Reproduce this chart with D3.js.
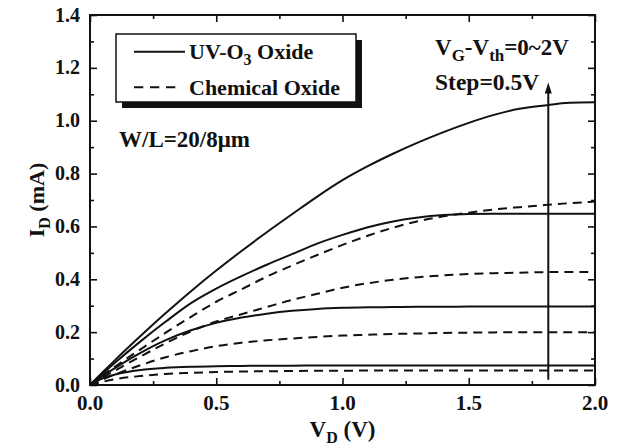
<!DOCTYPE html>
<html><head><meta charset="utf-8">
<script src="https://cdn.jsdelivr.net/npm/d3@7"></script>
</head>
<body style="margin:0;padding:0;background:#fff">
<svg id="chart" width="621" height="448"></svg>
<script>
// ---- data ----
const vd = [0,0.05,0.1,0.2,0.3,0.4,0.5,0.6,0.7,0.8,0.9,1.0,1.1,1.2,1.3,1.4,1.5,1.6,1.7,1.8,1.9,2.0];
// UV-O3 oxide, VG-Vth = 2.0, 1.5, 1.0, 0.5 V
const uv20 = [0,0.048,0.095,0.185,0.272,0.355,0.433,0.507,0.578,0.646,0.713,0.775,0.828,0.875,0.918,0.957,0.992,1.022,1.045,1.058,1.068,1.07];
const uv15 = [0,0.043,0.085,0.165,0.24,0.31,0.365,0.412,0.455,0.495,0.535,0.568,0.597,0.619,0.634,0.643,0.647,0.648,0.648,0.648,0.648,0.648];
const uv10 = [0,0.034,0.065,0.122,0.17,0.207,0.235,0.255,0.27,0.281,0.288,0.292,0.294,0.295,0.296,0.296,0.297,0.297,0.297,0.297,0.297,0.297];
const uv05 = [0,0.025,0.04,0.057,0.065,0.069,0.071,0.072,0.073,0.073,0.074,0.074,0.074,0.074,0.074,0.074,0.074,0.074,0.074,0.074,0.074,0.074];
// Chemical oxide
const ch20 = [0,0.036,0.07,0.135,0.198,0.258,0.315,0.362,0.41,0.452,0.492,0.53,0.565,0.595,0.62,0.638,0.652,0.664,0.673,0.681,0.688,0.694];
const ch15 = [0,0.028,0.055,0.108,0.158,0.203,0.24,0.268,0.295,0.322,0.345,0.368,0.385,0.398,0.408,0.415,0.42,0.423,0.425,0.427,0.428,0.428];
const ch10 = [0,0.021,0.04,0.075,0.105,0.128,0.147,0.16,0.169,0.176,0.182,0.187,0.19,0.193,0.195,0.197,0.198,0.199,0.2,0.2,0.2,0.2];
const ch05 = [0,0.012,0.022,0.034,0.042,0.046,0.049,0.051,0.052,0.053,0.054,0.054,0.055,0.055,0.055,0.055,0.055,0.055,0.055,0.055,0.055,0.055];
const xTicks = [0,0.5,1.0,1.5,2.0];
const yTicks = [0,0.2,0.4,0.6,0.8,1.0,1.2,1.4];
const xMinor = [0.25,0.75,1.25,1.75];
const yMinor = [0.1,0.3,0.5,0.7,0.9,1.1,1.3];
const arrowV = 1.815, arrowFrom = 0.02, arrowTo = 1.145;

// ---- layout ----
const L = 90, R = 595, T = 15, B = 385;
const x = d3.scaleLinear().domain([0,2]).range([L,R]);
const y = d3.scaleLinear().domain([0,1.4]).range([B,T]);
const svg = d3.select("#chart");

// helper: serif bold text
function txt(parent, size){
  return parent.append("text")
    .style("font-family", '"Liberation Serif"')
    .attr("font-weight","bold").attr("font-size",size).attr("fill","#111");
}

// curves
const line = d3.line().x((d,i)=>x(vd[i])).y(d=>y(d)).curve(d3.curveMonotoneX);
const series = [
  {v:uv20,dash:null},{v:uv15,dash:null},{v:uv10,dash:null},{v:uv05,dash:null},
  {v:ch20,dash:"9,6"},{v:ch15,dash:"9,6"},{v:ch10,dash:"9,6"},{v:ch05,dash:"9,6"}
];
svg.append("g").selectAll("path").data(series).join("path")
  .attr("d",d=>line(d.v)).attr("fill","none").attr("stroke","#111")
  .attr("stroke-width",2).attr("stroke-dasharray",d=>d.dash);

// axes (ticks only, labels drawn separately)
function styleAxis(g){
  g.select(".domain").remove();
  g.selectAll(".tick line").attr("stroke","#111").attr("stroke-width",1.6);
  g.selectAll(".tick text").remove();
}
svg.append("g").attr("transform",`translate(0,${B})`)
  .call(d3.axisBottom(x).tickValues(xTicks).tickSizeInner(-7).tickSizeOuter(0)).call(styleAxis);
svg.append("g").attr("transform",`translate(0,${B})`)
  .call(d3.axisBottom(x).tickValues(xMinor).tickSizeInner(-4).tickSizeOuter(0)).call(styleAxis);
svg.append("g").attr("transform",`translate(0,${T})`)
  .call(d3.axisTop(x).tickValues(xTicks).tickSizeInner(-7).tickSizeOuter(0)).call(styleAxis);
svg.append("g").attr("transform",`translate(0,${T})`)
  .call(d3.axisTop(x).tickValues(xMinor).tickSizeInner(-4).tickSizeOuter(0)).call(styleAxis);
svg.append("g").attr("transform",`translate(${L},0)`)
  .call(d3.axisLeft(y).tickValues(yTicks).tickSizeInner(-7).tickSizeOuter(0)).call(styleAxis);
svg.append("g").attr("transform",`translate(${L},0)`)
  .call(d3.axisLeft(y).tickValues(yMinor).tickSizeInner(-4).tickSizeOuter(0)).call(styleAxis);
svg.append("g").attr("transform",`translate(${R},0)`)
  .call(d3.axisRight(y).tickValues(yTicks).tickSizeInner(-7).tickSizeOuter(0)).call(styleAxis);
svg.append("g").attr("transform",`translate(${R},0)`)
  .call(d3.axisRight(y).tickValues(yMinor).tickSizeInner(-4).tickSizeOuter(0)).call(styleAxis);

// tick labels
const fmt = d3.format(".1f");
const xl = svg.append("g");
xTicks.forEach(v=>{ txt(xl,21).attr("x",x(v)).attr("y",B+25).attr("text-anchor","middle").text(fmt(v)); });
const yl = svg.append("g");
yTicks.forEach(v=>{ txt(yl,20).attr("x",L-10).attr("y",y(v)+6.5).attr("text-anchor","end").text(fmt(v)); });

// frame
svg.append("rect").attr("x",L).attr("y",T).attr("width",R-L).attr("height",B-T)
  .attr("fill","none").attr("stroke","#111").attr("stroke-width",2);

// arrow
svg.append("line").attr("x1",x(arrowV)).attr("x2",x(arrowV)).attr("y1",y(arrowFrom)).attr("y2",y(arrowTo)+8)
  .attr("stroke","#111").attr("stroke-width",2);
const ax = x(arrowV), ay = y(arrowTo);
svg.append("path").attr("d",`M${ax},${ay} L${ax-3.5},${ay+11} L${ax+3.5},${ay+11} Z`).attr("fill","#111");

// legend
const lg = svg.append("g");
lg.append("rect").attr("x",122).attr("y",40).attr("width",240).attr("height",68).attr("fill","#111");
lg.append("rect").attr("x",116).attr("y",34).attr("width",240).attr("height",68).attr("fill","#fff").attr("stroke","#111").attr("stroke-width",1.5);
lg.append("line").attr("x1",134).attr("x2",185).attr("y1",51.7).attr("y2",51.7).attr("stroke","#111").attr("stroke-width",2);
lg.append("line").attr("x1",134).attr("x2",176).attr("y1",87.3).attr("y2",87.3).attr("stroke","#111").attr("stroke-width",2).attr("stroke-dasharray","9.3,6.7");
const t1 = txt(lg,22).attr("x",189).attr("y",58.8);
t1.append("tspan").text("UV-O");
t1.append("tspan").attr("font-size",16).attr("dy",6).text("3");
t1.append("tspan").attr("dy",-6).text(" Oxide");
txt(lg,22).attr("x",189).attr("y",94.5).text("Chemical Oxide");

// annotations
txt(svg,23).attr("x",119).attr("y",146.5).text("W/L=20/8\u03bcm");
const a1 = txt(svg,23).attr("x",435).attr("y",55);
a1.append("tspan").text("V");
a1.append("tspan").attr("font-size",17).attr("dy",6).text("G");
a1.append("tspan").attr("dy",-6).text("-V");
a1.append("tspan").attr("font-size",17).attr("dy",6).text("th");
a1.append("tspan").attr("dy",-6).text("=0~2V");
txt(svg,23.5).attr("x",435).attr("y",90).text("Step=0.5V");

// axis titles
const xt = txt(svg,23).attr("x",(L+R)/2).attr("y",437).attr("text-anchor","middle");
xt.append("tspan").text("V");
xt.append("tspan").attr("font-size",16).attr("dy",6).text("D");
xt.append("tspan").attr("dy",-6).text(" (V)");
const yt = txt(svg,22).attr("transform","translate(44,200) rotate(-90)").attr("text-anchor","middle");
yt.append("tspan").text("I");
yt.append("tspan").attr("font-size",16).attr("dy",6).text("D");
yt.append("tspan").attr("dy",-6).text(" (mA)");
</script>
</body></html>
